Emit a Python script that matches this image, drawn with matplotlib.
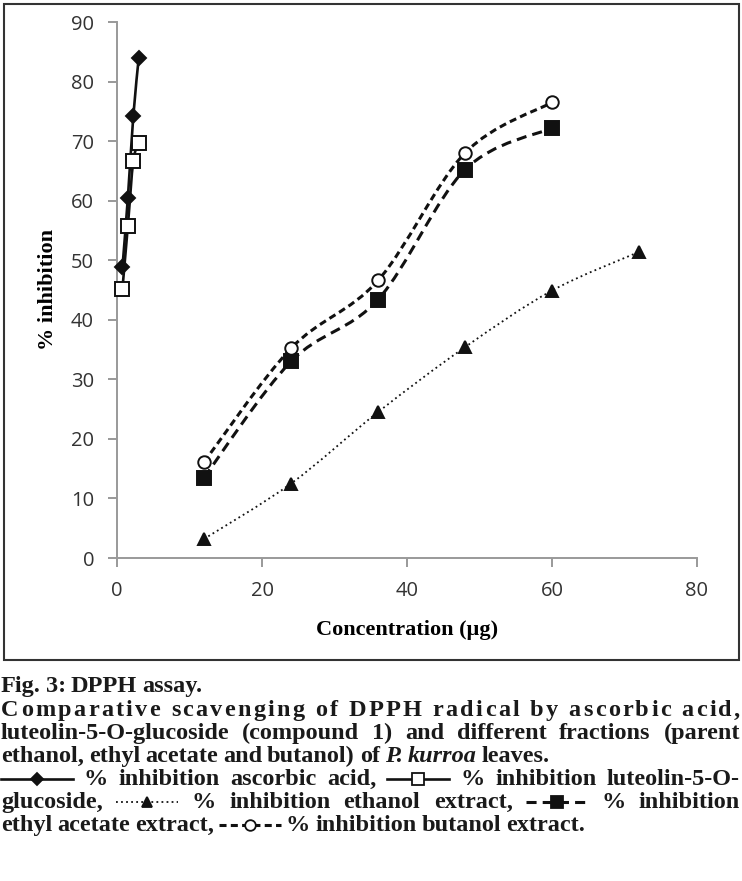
import matplotlib
matplotlib.use("Agg")
import matplotlib.pyplot as plt
from matplotlib.path import Path
from matplotlib.patches import PathPatch, Rectangle
from matplotlib.lines import Line2D

# concentration (ug) and % inhibition
ascorbic_conc = [0.75, 1.5, 2.25, 3.0]
ascorbic_inh = [48.8, 60.5, 74.2, 84.0]
luteolin_conc = [0.75, 1.5, 2.25, 3.0]
luteolin_inh = [45.2, 55.8, 66.7, 69.6]
ethanol_conc = [12, 24, 36, 48, 60, 72]
ethanol_inh = [3.2, 12.5, 24.5, 35.4, 44.9, 51.4]
ethyl_conc = [12, 24, 36, 48, 60]
ethyl_inh = [13.5, 33.0, 43.4, 65.2, 72.2]
butanol_conc = [12, 24, 36, 48, 60]
butanol_inh = [16.1, 35.2, 46.6, 68.0, 76.5]

x_ticks = [0, 20, 40, 60, 80]
y_ticks = [0, 10, 20, 30, 40, 50, 60, 70, 80, 90]

W, H = 742, 881
fig = plt.figure(figsize=(W / 100, H / 100), dpi=100)


def fx(px):
    return px / W


def fy(py):
    return 1 - py / H


# outer chart frame
fig.patches.append(Rectangle((fx(4), fy(660)), fx(735), 656 / H, transform=fig.transFigure,
                             fill=False, edgecolor="#333333", linewidth=1.5))

ax = fig.add_axes([fx(117), fy(558), fx(697) - fx(117), fy(22) - fy(558)])


def smooth_path(xs, ys):
    # excel style smoothed line as cubic bezier segments
    pts = list(zip(xs, ys))
    n = len(pts)
    verts = [pts[0]]
    codes = [Path.MOVETO]
    for i in range(n - 1):
        p0 = pts[i - 1] if i > 0 else pts[i]
        p1 = pts[i]
        p2 = pts[i + 1]
        p3 = pts[i + 2] if i + 2 < n else pts[i + 1]
        c1 = (p1[0] + (p2[0] - p0[0]) / 6, p1[1] + (p2[1] - p0[1]) / 6)
        c2 = (p2[0] - (p3[0] - p1[0]) / 6, p2[1] - (p3[1] - p1[1]) / 6)
        verts += [c1, c2, p2]
        codes += [Path.CURVE4] * 3
    return Path(verts, codes)


series = [
    # x, y, linestyle, lw, marker, ms, facecolor
    (ascorbic_conc, ascorbic_inh, "-", 1.9, "D", 7.5, "#111111"),
    (luteolin_conc, luteolin_inh, "-", 1.9, "s", 9.5, "white"),
    (ethanol_conc, ethanol_inh, (0, (1, 1.8)), 1.3, "^", 9, "#111111"),
    (ethyl_conc, ethyl_inh, (0, (3.3, 2.0)), 2.2, "s", 9.5, "#111111"),
    (butanol_conc, butanol_inh, (0, (2.3, 1.4)), 2.2, "o", 9, "white"),
]

for xs, ys, ls, lw, mk, ms, fc in series:
    ax.add_patch(PathPatch(smooth_path(xs, ys), fill=False, edgecolor="#111111",
                           linewidth=lw, linestyle=ls, zorder=2))
for xs, ys, ls, lw, mk, ms, fc in series:
    ax.plot(xs, ys, linestyle="none", marker=mk, markersize=ms, markerfacecolor=fc,
            markeredgecolor="#111111", markeredgewidth=1.4, zorder=3, clip_on=False)

ax.set_xlim(0, 80)
ax.set_ylim(0, 90)
ax.set_xticks(x_ticks)
ax.set_yticks(y_ticks)
for s in ["top", "right"]:
    ax.spines[s].set_visible(False)
for s in ["left", "bottom"]:
    ax.spines[s].set_color("#999999")
    ax.spines[s].set_linewidth(1.4)
ax.tick_params(direction="out", length=6.5, width=1.4, color="#999999",
               labelsize=14.5, labelcolor="#333333", pad=10)
for lab in ax.get_xticklabels() + ax.get_yticklabels():
    lab.set_family("Open Sans")

ax.set_xlabel("Concentration (µg)", family="Liberation Serif", fontweight="bold",
              fontsize=16, labelpad=14)
ax.set_ylabel("% inhibition", family="Liberation Serif", fontweight="bold",
              fontsize=16, labelpad=9)

# caption, justified line by line
renderer = fig.canvas.get_renderer()
CAP_FONT = dict(family="Liberation Serif", fontweight="bold", color="#1a1a1a")

# pick the caption size so the tightest line just fills the width
probe = fig.text(0, 0, "luteolin-5-O-glucoside (compound 1) and different fractions (parent",
                 fontsize=16, **CAP_FONT)
cap_size = 16 * 728 / probe.get_window_extent(renderer).width
probe.remove()
CAP_FONT["fontsize"] = min(cap_size, 17.5)
KEY_W = 62


def draw_key(x0, y, idx):
    xs, ys, ls, lw, mk, ms, fc = series[idx]
    w = 72 if idx == 0 else KEY_W
    line = Line2D([fx(x0), fx(x0 + w / 2), fx(x0 + w)], [fy(y - 6)] * 3,
                  transform=fig.transFigure, color="#111111", linewidth=lw,
                  linestyle=ls, marker=mk, markevery=[1], markersize=ms * 0.85,
                  markerfacecolor=fc, markeredgecolor="#111111", markeredgewidth=1.3)
    fig.lines.append(line)
    return w


def caption_line(tokens, y, justify):
    items = []
    for tok in tokens:
        if isinstance(tok, int):
            items.append((tok, 72 if tok == 0 else KEY_W))
        else:
            word, style = tok if isinstance(tok, tuple) else (tok, "normal")
            t = fig.text(0, fy(y), word, style=style, va="baseline", ha="left", **CAP_FONT)
            items.append((t, t.get_window_extent(renderer).width))
    total = sum(w for _, w in items)
    space = 5.0
    if justify and len(items) > 1:
        space = (W - 3 - total) / (len(items) - 1)
    x = 1.0
    for obj, w in items:
        if isinstance(obj, int):
            draw_key(x, y, obj)
        else:
            obj.set_x(fx(x))
        x += w + space


def letterspaced_line(text, y):
    # justified by spreading letters, as in the printed caption
    sp = fig.text(0, 0, "a a", **CAP_FONT)
    aa = fig.text(0, 0, "aa", **CAP_FONT)
    space_w = sp.get_window_extent(renderer).width - aa.get_window_extent(renderer).width
    sp.remove()
    aa.remove()
    items = []
    for ch in text:
        if ch == " ":
            items.append((None, space_w))
        else:
            t = fig.text(0, fy(y), ch, va="baseline", ha="left", **CAP_FONT)
            items.append((t, t.get_window_extent(renderer).width))
    total = sum(w for _, w in items)
    extra = (W - 3 - total) / (len(items) - 1)
    x = 1.0
    for obj, w in items:
        if obj is not None:
            obj.set_x(fx(x))
        x += w + extra


caption_line("Fig. 3: DPPH assay.".split(), 692, False)
letterspaced_line("Comparative scavenging of DPPH radical by ascorbic acid,", 716)
caption_line("luteolin-5-O-glucoside (compound 1) and different fractions (parent".split(), 739, True)
caption_line("ethanol, ethyl acetate and butanol) of".split() + [("P.", "italic"), ("kurroa", "italic"), "leaves."],
             762, False)
caption_line([0] + "% inhibition ascorbic acid,".split() + [1] + "% inhibition luteolin-5-O-".split(), 785, True)
caption_line(["glucoside,", 2] + "% inhibition ethanol extract,".split() + [3, "%", "inhibition"], 808, True)
caption_line("ethyl acetate extract,".split() + [4] + "% inhibition butanol extract.".split(), 831, False)

fig.savefig("out.png", dpi=100)
